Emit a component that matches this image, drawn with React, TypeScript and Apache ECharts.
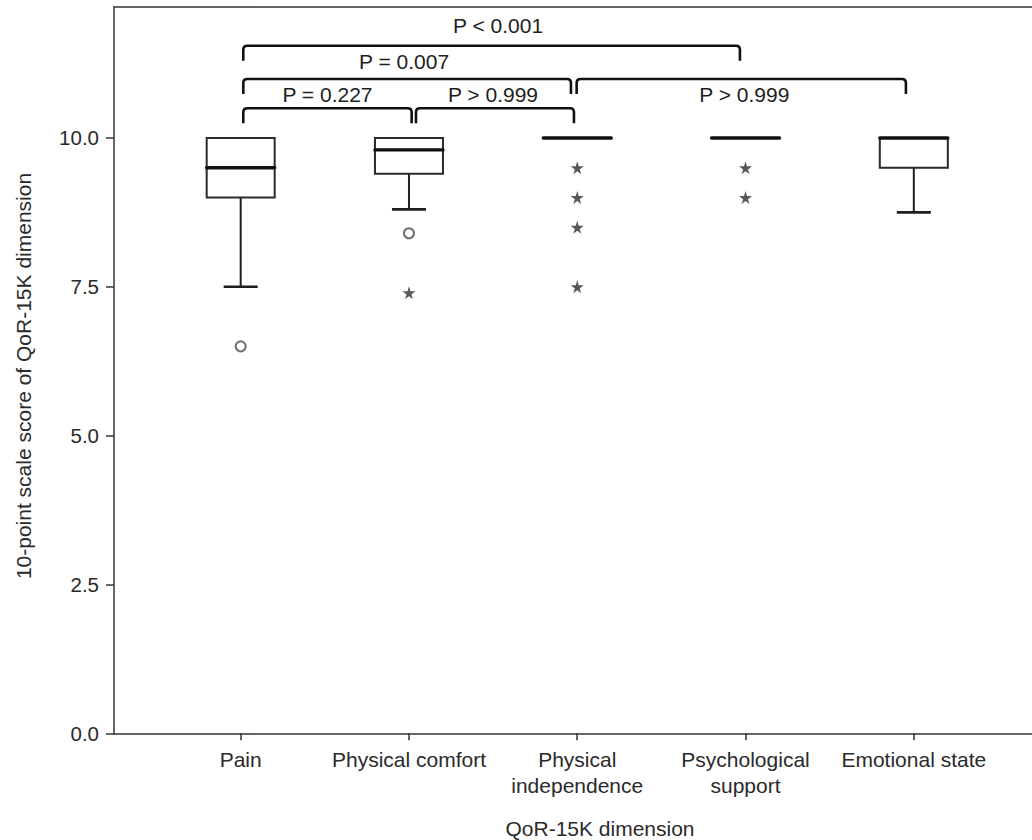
import React, { useEffect, useRef } from 'react';
import * as echarts from 'echarts';

// ---- data ----
const categories = ['Pain', 'Physical comfort', 'Physical\nindependence', 'Psychological\nsupport', 'Emotional state'];
const categoryPositions = [1, 2, 3, 4, 5];
const whiskerLow = [7.5, 8.8, 10, 10, 8.75];
const quartile1 = [9.0, 9.4, 10, 10, 9.5];
const medians = [9.5, 9.8, 10, 10, 10];
const quartile3 = [10, 10, 10, 10, 10];
const whiskerHigh = [10, 10, 10, 10, 10];
const mildOutliers = [[1, 6.5], [2, 8.4]];
const extremeOutliers = [[2, 7.4], [3, 9.5], [3, 9.0], [3, 8.5], [3, 7.5], [4, 9.5], [4, 9.0]];
const yTicks = [0, 2.5, 5, 7.5, 10];
const comparisonFrom = [1, 2, 1, 3, 1];
const comparisonTo = [2, 3, 3, 5, 4];
const comparisonLabels = ['P = 0.227', 'P > 0.999', 'P = 0.007', 'P > 0.999', 'P < 0.001'];

// ---- layout (annotation placement) ----
const bracketLevel = [10.5, 10.5, 10.99, 10.99, 11.55];
const labelLevel = [10.73, 10.73, 11.29, 10.73, 11.89];
const leftNudge = [2.6, 7, 2.6, -0.6, 2.6];
const rightNudge = [2.7, -3.3, -6.3, -7.9, -5.6];
const labelNudge = [0, -2, -3, 3, 6.5];

const FONT = '"Liberation Sans", Arial, Helvetica, sans-serif';
const STAR = 'path://M50,0 L61,35 L98,35 L68,57 L79,91 L50,70 L21,91 L32,57 L2,35 L39,35 Z';

export default function App() {
  const ref = useRef<HTMLDivElement>(null);
  useEffect(() => {
    if (!ref.current) return;
    const chart = echarts.init(ref.current, null, { renderer: 'svg' });
    const boxData = categoryPositions.map((x, i) => [x, whiskerLow[i], quartile1[i], medians[i], quartile3[i], whiskerHigh[i]]);
    const bracketData = comparisonFrom.map((f, i) => [f, comparisonTo[i], bracketLevel[i], labelLevel[i]]);
    const axisColor = '#333';
    chart.setOption({
      animation: false,
      grid: { left: 114, right: 0, top: 7, bottom: 106.7, containLabel: false },
      xAxis: [
        {
          type: 'value', min: 0.2472, max: 5.7023,
          axisLine: { show: true, onZero: false, lineStyle: { color: axisColor, width: 1.5 } },
          axisTick: { show: true, customValues: categoryPositions, length: 7, lineStyle: { color: axisColor, width: 1.5 } },
          axisLabel: {
            customValues: categoryPositions,
            formatter: (v: number) => categories[Math.round(v) - 1] || '',
            fontSize: 21, fontFamily: FONT, color: '#2a2a2a', lineHeight: 26, margin: 13,
          },
          splitLine: { show: false },
        },
        {
          type: 'value', position: 'top', min: 0, max: 1,
          axisLine: { show: true, onZero: false, lineStyle: { color: axisColor, width: 1.5 } },
          axisTick: { show: false }, axisLabel: { show: false }, splitLine: { show: false },
        },
      ],
      yAxis: {
        type: 'value', min: 0, max: 12.2,
        axisLine: { show: true, onZero: false, lineStyle: { color: axisColor, width: 1.5 } },
        axisTick: { show: true, customValues: yTicks, length: 8, lineStyle: { color: axisColor, width: 1.5 } },
        axisLabel: {
          customValues: yTicks,
          formatter: (v: number) => v.toFixed(1),
          fontSize: 20.5, fontFamily: FONT, color: '#2a2a2a', margin: 15,
        },
        splitLine: { show: false },
      },
      graphic: [
        {
          type: 'text', x: 23, y: 376, rotation: Math.PI / 2,
          style: { text: '10-point scale score of QoR-15K dimension', fontSize: 21, fontFamily: FONT, fill: '#2a2a2a', align: 'center', verticalAlign: 'middle' },
        },
        {
          type: 'text', x: 600, y: 828,
          style: { text: 'QoR-15K dimension', fontSize: 21, fontFamily: FONT, fill: '#2a2a2a', align: 'center', verticalAlign: 'middle' },
        },
      ],
      series: [
        {
          type: 'custom',
          xAxisIndex: 0,
          data: boxData,
          encode: { x: 0, y: [1, 2, 3, 4, 5] },
          renderItem: (params: any, api: any) => {
            const x = api.value(0);
            const lo = api.coord([x, api.value(1)]);
            const q1 = api.coord([x, api.value(2)]);
            const med = api.coord([x, api.value(3)]);
            const q3 = api.coord([x, api.value(4)]);
            const hi = api.coord([x, api.value(5)]);
            const cx = lo[0];
            const hw = 34, cw = 17;
            const stroke = '#1e1e1e';
            const children: any[] = [];
            if (lo[1] - q1[1] > 0.5) {
              children.push({ type: 'line', shape: { x1: cx, y1: q1[1], x2: cx, y2: lo[1] }, style: { stroke, lineWidth: 2 } });
              children.push({ type: 'line', shape: { x1: cx - cw, y1: lo[1], x2: cx + cw, y2: lo[1] }, style: { stroke, lineWidth: 2.6 } });
            }
            if (q3[1] - hi[1] > 0.5) {
              children.push({ type: 'line', shape: { x1: cx, y1: q3[1], x2: cx, y2: hi[1] }, style: { stroke, lineWidth: 2 } });
              children.push({ type: 'line', shape: { x1: cx - cw, y1: hi[1], x2: cx + cw, y2: hi[1] }, style: { stroke, lineWidth: 2.6 } });
            }
            if (q1[1] - q3[1] > 0.5) {
              children.push({ type: 'rect', shape: { x: cx - hw, y: q3[1], width: 2 * hw, height: q1[1] - q3[1] }, style: { fill: '#fff', stroke: '#2a2a2a', lineWidth: 2 } });
            }
            children.push({ type: 'line', shape: { x1: cx - hw, y1: med[1], x2: cx + hw, y2: med[1] }, style: { stroke: '#111', lineWidth: 3.4, lineCap: 'round' } });
            return { type: 'group', children };
          },
          z: 2,
        },
        {
          type: 'scatter',
          xAxisIndex: 0,
          data: mildOutliers,
          symbol: 'circle',
          symbolSize: 10,
          itemStyle: { color: '#fff', borderColor: '#4a4a4a', borderWidth: 2 },
          z: 3,
        },
        {
          type: 'scatter',
          xAxisIndex: 0,
          data: extremeOutliers,
          symbol: STAR,
          symbolSize: 13,
          itemStyle: { color: '#2e2e2e' },
          z: 3,
        },
        {
          type: 'custom',
          xAxisIndex: 0,
          data: bracketData,
          encode: { x: [0, 1], y: [2, 3] },
          clip: false,
          renderItem: (params: any, api: any) => {
            const i = params.dataIndex;
            const a = api.coord([api.value(0), api.value(2)]);
            const b = api.coord([api.value(1), api.value(2)]);
            const lab = api.coord([(api.value(0) + api.value(1)) / 2, api.value(3)]);
            const x1 = a[0] + leftNudge[i];
            const x2 = b[0] + rightNudge[i];
            const y = a[1];
            const drop = 15, r = 4;
            const d = `M${x1},${y + drop} L${x1},${y + r} Q${x1},${y} ${x1 + r},${y} L${x2 - r},${y} Q${x2},${y} ${x2},${y + r} L${x2},${y + drop}`;
            return {
              type: 'group',
              children: [
                { type: 'path', shape: { pathData: d }, style: { fill: 'none', stroke: '#111', lineWidth: 2.6 } },
                {
                  type: 'text',
                  style: {
                    text: comparisonLabels[i], x: (x1 + x2) / 2 + labelNudge[i], y: lab[1],
                    fontSize: 21, fontFamily: FONT, fill: '#1e1e1e', align: 'center', verticalAlign: 'middle',
                  },
                },
              ],
            };
          },
          z: 4,
        },
      ],
    });
    return () => chart.dispose();
  }, []);
  return <div ref={ref} style={{ position: 'fixed', left: 0, top: 0, width: 1032, height: 840, background: '#fff' }} />;
}
